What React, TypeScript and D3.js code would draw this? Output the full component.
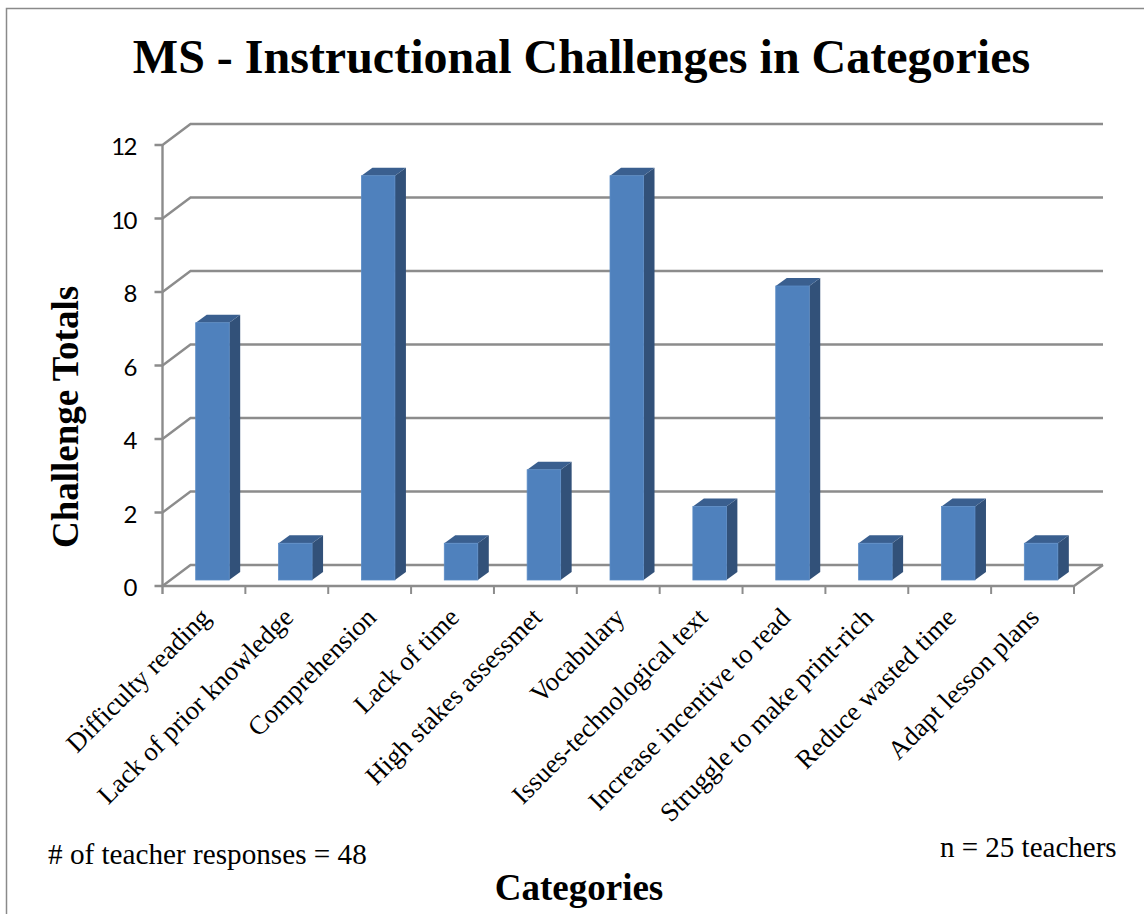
import React from "react";
import * as d3 from "d3";

const categories = [
  "Difficulty reading",
  "Lack of prior knowledge",
  "Comprehension",
  "Lack of time",
  "High stakes assessmet",
  "Vocabulary",
  "Issues-technological text",
  "Increase incentive to read",
  "Struggle to make print-rich",
  "Reduce wasted time",
  "Adapt lesson plans",
];
const totals = [7, 1, 11, 1, 3, 11, 2, 8, 1, 2, 1];
const yTicks = [0, 2, 4, 6, 8, 10, 12];

const W = 1144;
const H = 914;
const DX = 28;
const DY = 21;
const BAR_DX = 11;
const BAR_DY = 8;
const SERIF = "'Liberation Serif', serif";
const GRID = "#8c8c8c";

export default function App() {
  const x = d3.scaleBand<string>().domain(categories).range([162.5, 1074]).paddingInner(0).paddingOuter(0);
  const y = d3.scaleLinear().domain([0, 12]).range([586, 145]);
  const barH = d3.scaleLinear().domain([0, 12]).range([0, 441]);
  const barW = 33.5;
  const barOffset = 33.2;
  const barBase = 580;
  const x0 = x.range()[0];
  const x1 = x.range()[1];

  return (
    <svg
      width={W}
      height={H}
      viewBox={`0 0 ${W} ${H}`}
      style={{ position: "absolute", left: 0, top: 0, background: "#fff" }}
    >
      <path d={`M6.5 914V8.5H1144`} fill="none" stroke="#8a8a8a" strokeWidth={1.5} />
      <text x={581.5} y={73} textAnchor="middle" fontFamily={SERIF} fontWeight="bold" fontSize={48} fill="#000">
        MS - Instructional Challenges in Categories
      </text>

      {/* walls and gridlines */}
      {yTicks.map((t) => (
        <g key={t} stroke={GRID} strokeWidth={2.4} fill="none">
          <path d={`M${x0 - 8} ${y(t)}H${x0}L${x0 + DX} ${y(t) - DY}H${x1 + DX + 1}`} />
          <text
            x={136}
            y={y(t) + 10}
            textAnchor="end"
            fontFamily="Lato, sans-serif"
            fontSize={24}
            letterSpacing={-1.5}
            fill="#000"
            stroke="none"
          >
            {t}
          </text>
        </g>
      ))}
      <path d={`M${x0} ${y(12)}V${y(0) + 8}`} stroke={GRID} strokeWidth={2.4} fill="none" />
      <path d={`M${x0} ${y(0)}H${x1}L${x1 + DX + 1} ${y(0) - DY}`} stroke={GRID} strokeWidth={2.4} fill="none" />
      {categories.map((c) => (
        <path key={c} d={`M${x(c)! + x.bandwidth()} ${y(0)}v8`} stroke={GRID} strokeWidth={2} fill="none" />
      ))}

      {/* bars */}
      {categories.map((c, i) => {
        const left = x(c)! + barOffset;
        const right = left + barW;
        const top = barBase - barH(totals[i]);
        return (
          <g key={c}>
            <path
              d={`M${right} ${top}l${BAR_DX} ${-BAR_DY}V${barBase - BAR_DY}l${-BAR_DX} ${BAR_DY}Z`}
              fill="#325179"
            />
            <path
              d={`M${left} ${top}l${BAR_DX} ${-BAR_DY}H${right + BAR_DX}l${-BAR_DX} ${BAR_DY}Z`}
              fill="#3a5f8f"
            />
            <rect x={left} y={top} width={barW} height={barH(totals[i])} fill="#4f81bd" stroke="#5b8cc6" strokeWidth={0.8} />
          </g>
        );
      })}

      {/* category labels */}
      {categories.map((c) => {
        const ax = x(c)! + x.bandwidth() / 2 + 8;
        return (
          <text
            key={c}
            transform={`translate(${ax},${619}) rotate(-45)`}
            textAnchor="end"
            fontFamily={SERIF}
            fontSize={26.6}
            fill="#000"
          >
            {c}
          </text>
        );
      })}

      <text
        transform="translate(78,417) rotate(-90)"
        textAnchor="middle"
        fontFamily={SERIF}
        fontWeight="bold"
        fontSize={37}
        fill="#000"
      >
        Challenge Totals
      </text>
      <text x={579} y={900} textAnchor="middle" fontFamily={SERIF} fontWeight="bold" fontSize={37} fill="#000">
        Categories
      </text>
      <text x={48} y={864} fontFamily={SERIF} fontSize={29.2} fill="#000">
        # of teacher responses = 48
      </text>
      <text x={940} y={857} fontFamily={SERIF} fontSize={29} fill="#000">
        n = 25 teachers
      </text>
    </svg>
  );
}
